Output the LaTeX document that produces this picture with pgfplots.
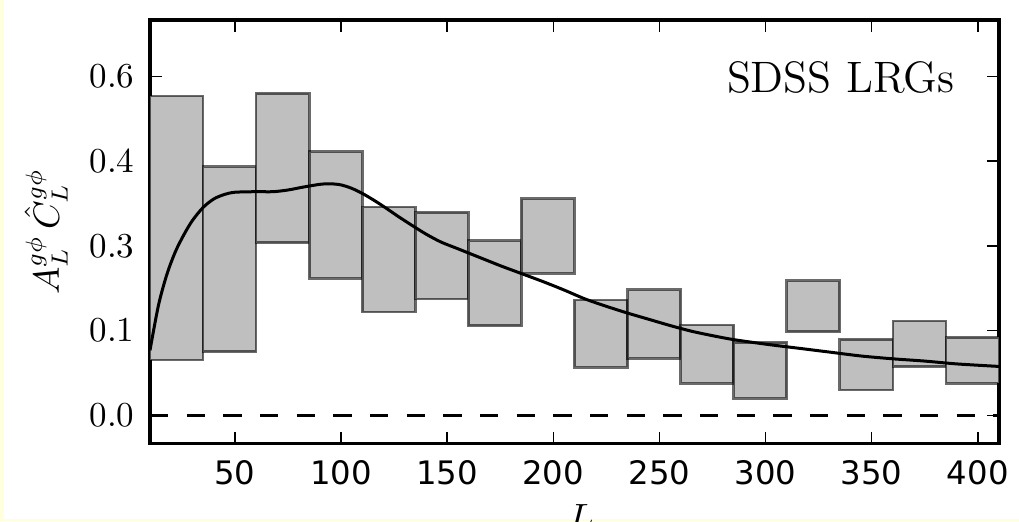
\documentclass[border=0pt]{standalone}
\usepackage{fontspec}
\usepackage{pgfplots}
\pgfplotsset{compat=1.18}
\newfontfamily\dejavu{DejaVu Sans}
\definecolor{bgyellow}{RGB}{255,255,222}
\definecolor{barfill}{RGB}{191,191,191}
\newcommand{\gbar}[4]{\addplot[fill=barfill, draw=black, draw opacity=0.58, line width=0.8pt] coordinates {(#1,#3) (#2,#3) (#2,#4) (#1,#4)} -- cycle;}
\begin{document}
\begin{tikzpicture}
\path[use as bounding box] (-45pt,-23.25pt) rectangle (260.7pt,133.05pt);
\fill[bgyellow] (-45pt,-23.25pt) rectangle (260.7pt,133.05pt);
\fill[white] (-43.8pt,-22.65pt) rectangle (260.7pt,133.05pt);
\begin{axis}[
  at={(0,0)}, anchor=south west,
  scale only axis, width=254.7pt, height=127.05pt,
  xmin=10, xmax=410, ymin=-0.05, ymax=0.7,
  axis line style={line width=1pt},
  tick style={black, line width=0.45pt},
  major tick length=3.5pt,
  tick align=inside,
  xtick={50,100,150,200,250,300,350,400},
  xticklabels={50,100,150,200,250,300,350,400},
  ytick={0,0.15,0.3,0.45,0.6},
  yticklabels={0.0,0.1,0.3,0.4,0.6},
  xticklabel style={font=\dejavu\fontsize{9.7}{11}\selectfont, inner sep=0pt, anchor=north, yshift=-5pt},
  yticklabel style={font=\fontsize{10.5}{12}\selectfont, inner sep=0pt, anchor=east, xshift=-4.5pt},
  xlabel={$L$},
  xlabel style={font=\fontsize{10.7}{12}\selectfont, at={(axis description cs:0.5,0)}, anchor=north, inner sep=0pt, yshift=-18.2pt, xshift=2pt},
  ylabel={$A_L^{g\phi}\,\hat{C}_L^{g\phi}$},
  ylabel style={font=\fontsize{10.7}{12}\selectfont, at={(axis description cs:-0.1072,0.5)}, anchor=base, inner sep=0pt},
]
\addplot[black, line width=0.9pt, dash pattern=on 5.5pt off 5.5pt] coordinates {(10,0) (410,0)};
\gbar{10}{35}{0.0979}{0.5654}
\gbar{35}{60}{0.1126}{0.4402}
\gbar{60}{85}{0.3056}{0.5702}
\gbar{85}{110}{0.2426}{0.4668}
\gbar{110}{135}{0.1829}{0.3689}
\gbar{135}{160}{0.2060}{0.3595}
\gbar{160}{185}{0.1587}{0.3092}
\gbar{185}{210}{0.2515}{0.3836}
\gbar{210}{235}{0.0850}{0.2042}
\gbar{235}{260}{0.1009}{0.2226}
\gbar{260}{285}{0.0567}{0.1599}
\gbar{285}{310}{0.0301}{0.1293}
\gbar{310}{335}{0.1480}{0.2384}
\gbar{335}{360}{0.0448}{0.1346}
\gbar{360}{385}{0.0861}{0.1670}
\gbar{385}{410}{0.0567}{0.1381}
\addplot[black, line width=0.9pt, smooth] coordinates {
(10,0.115) (14,0.195) (18,0.250) (22,0.290) (26,0.320) (30,0.345) (35,0.368)
(40,0.383) (45,0.391) (50,0.395) (60,0.396) (68,0.396) (75,0.399) (82,0.404)
(90,0.409) (95,0.410) (100,0.408) (105,0.402) (110,0.393) (115,0.382)
(120,0.370) (127,0.352) (134,0.335) (140,0.321) (147,0.307) (155,0.295)
(165,0.280) (175,0.265) (185,0.251) (195,0.237) (205,0.222) (215,0.206)
(225,0.193) (235,0.181) (245,0.170) (255,0.159) (265,0.149) (275,0.141)
(285,0.134) (300,0.126) (315,0.119) (330,0.112) (345,0.105) (360,0.100)
(375,0.096) (390,0.091) (410,0.0865)};
\node[font=\fontsize{13.2}{15}\selectfont, anchor=base east, inner sep=0pt] at ([xshift=-13.2pt,yshift=-21.6pt]axis description cs:1,1) {SDSS LRGs};
\end{axis}
\end{tikzpicture}
\end{document}
